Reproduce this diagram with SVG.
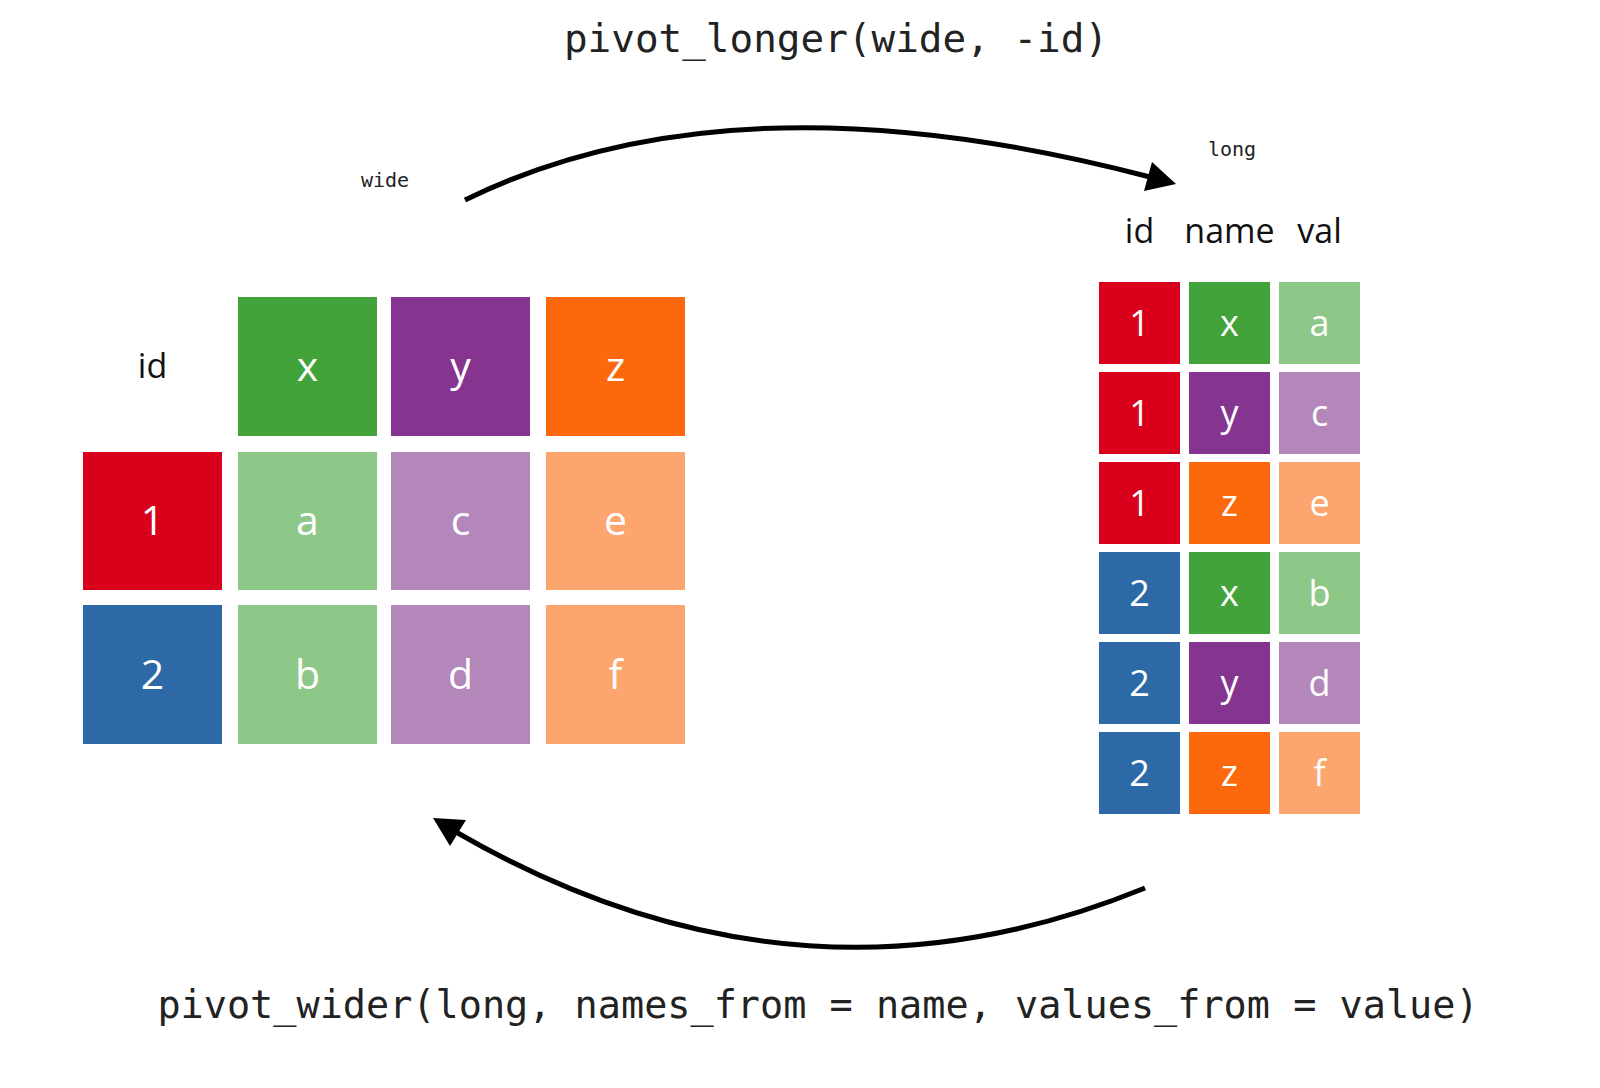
<svg xmlns="http://www.w3.org/2000/svg" width="1600" height="1088" viewBox="0 0 1600 1088">
<style>
.code{font-family:"DejaVu Sans Mono","Liberation Mono",monospace;fill:#222;text-anchor:middle}
.hdr{font-family:"Open Sans","Noto Sans",sans-serif;fill:#111;text-anchor:middle;font-size:34px}
.lc{font-family:"Open Sans","Noto Sans",sans-serif;fill:#fff;text-anchor:middle;font-size:41px}
.rc{font-family:"Open Sans","Noto Sans",sans-serif;fill:#fff;text-anchor:middle;font-size:36px}
.red{fill:#D9001B}.blue{fill:#2D69A6}.green{fill:#42A33A}.purple{fill:#85358F}.orange{fill:#FC690C}
.lgreen{fill:#8EC888}.lpurple{fill:#B487BB}.lorange{fill:#FDA56F}
.conn{fill:none;stroke:#000;stroke-width:5}
</style>
<rect width="1600" height="1088" fill="#fff"/>
<text class="code" x="836" y="52" font-size="39.3">pivot_longer(wide, -id)</text>
<text class="code" x="818" y="1018" font-size="38.5">pivot_wider(long, names_from = name, values_from = value)</text>
<text class="code" x="385" y="187" font-size="20">wide</text>
<text class="code" x="1232" y="156" font-size="20">long</text>

<g id="wide">
<g id="w-h-id"><text class="hdr" x="152.5" y="378">id</text></g>
<g id="w-h-x"><rect class="green" x="238" y="297" width="139" height="139"/><text class="lc" x="307.5" y="381">x</text></g>
<g id="w-h-y"><rect class="purple" x="391" y="297" width="139" height="139"/><text class="lc" x="460.5" y="381">y</text></g>
<g id="w-h-z"><rect class="orange" x="546" y="297" width="139" height="139"/><text class="lc" x="615.5" y="381">z</text></g>
<g id="w-1"><rect class="red" x="83" y="452" width="139" height="138"/><text class="lc" x="152.5" y="535">1</text></g>
<g id="w-a"><rect class="lgreen" x="238" y="452" width="139" height="138"/><text class="lc" x="307.5" y="535">a</text></g>
<g id="w-c"><rect class="lpurple" x="391" y="452" width="139" height="138"/><text class="lc" x="460.5" y="535">c</text></g>
<g id="w-e"><rect class="lorange" x="546" y="452" width="139" height="138"/><text class="lc" x="615.5" y="535">e</text></g>
<g id="w-2"><rect class="blue" x="83" y="605" width="139" height="139"/><text class="lc" x="152.5" y="689">2</text></g>
<g id="w-b"><rect class="lgreen" x="238" y="605" width="139" height="139"/><text class="lc" x="307.5" y="689">b</text></g>
<g id="w-d"><rect class="lpurple" x="391" y="605" width="139" height="139"/><text class="lc" x="460.5" y="689">d</text></g>
<g id="w-f"><rect class="lorange" x="546" y="605" width="139" height="139"/><text class="lc" x="615.5" y="689">f</text></g>
</g>

<g id="long">
<g id="l-h-id"><text class="hdr" x="1139.5" y="243">id</text></g>
<g id="l-h-name"><text class="hdr" x="1229.5" y="243">name</text></g>
<g id="l-h-val"><text class="hdr" x="1319.5" y="243">val</text></g>
<g id="l-r1"><rect class="red" x="1099" y="282" width="81" height="82"/><text class="rc" x="1139.5" y="336">1</text>
<rect class="green" x="1189" y="282" width="81" height="82"/><text class="rc" x="1229.5" y="336">x</text>
<rect class="lgreen" x="1279" y="282" width="81" height="82"/><text class="rc" x="1319.5" y="336">a</text></g>
<g id="l-r2"><rect class="red" x="1099" y="372" width="81" height="82"/><text class="rc" x="1139.5" y="426">1</text>
<rect class="purple" x="1189" y="372" width="81" height="82"/><text class="rc" x="1229.5" y="426">y</text>
<rect class="lpurple" x="1279" y="372" width="81" height="82"/><text class="rc" x="1319.5" y="426">c</text></g>
<g id="l-r3"><rect class="red" x="1099" y="462" width="81" height="82"/><text class="rc" x="1139.5" y="516">1</text>
<rect class="orange" x="1189" y="462" width="81" height="82"/><text class="rc" x="1229.5" y="516">z</text>
<rect class="lorange" x="1279" y="462" width="81" height="82"/><text class="rc" x="1319.5" y="516">e</text></g>
<g id="l-r4"><rect class="blue" x="1099" y="552" width="81" height="82"/><text class="rc" x="1139.5" y="606">2</text>
<rect class="green" x="1189" y="552" width="81" height="82"/><text class="rc" x="1229.5" y="606">x</text>
<rect class="lgreen" x="1279" y="552" width="81" height="82"/><text class="rc" x="1319.5" y="606">b</text></g>
<g id="l-r5"><rect class="blue" x="1099" y="642" width="81" height="82"/><text class="rc" x="1139.5" y="696">2</text>
<rect class="purple" x="1189" y="642" width="81" height="82"/><text class="rc" x="1229.5" y="696">y</text>
<rect class="lpurple" x="1279" y="642" width="81" height="82"/><text class="rc" x="1319.5" y="696">d</text></g>
<g id="l-r6"><rect class="blue" x="1099" y="732" width="81" height="82"/><text class="rc" x="1139.5" y="786">2</text>
<rect class="orange" x="1189" y="732" width="81" height="82"/><text class="rc" x="1229.5" y="786">z</text>
<rect class="lorange" x="1279" y="732" width="81" height="82"/><text class="rc" x="1319.5" y="786">f</text></g>
</g>

<g id="connectors">
<path class="conn" d="M465,200 Q734,68 1150,177"/>
<polygon points="1176,184 1152,162 1144,191" fill="#000"/>
<path class="conn" d="M1145,888 Q798,1030 456,832"/>
<polygon points="433,818 466,820 450,846" fill="#000"/>
</g>
</svg>
